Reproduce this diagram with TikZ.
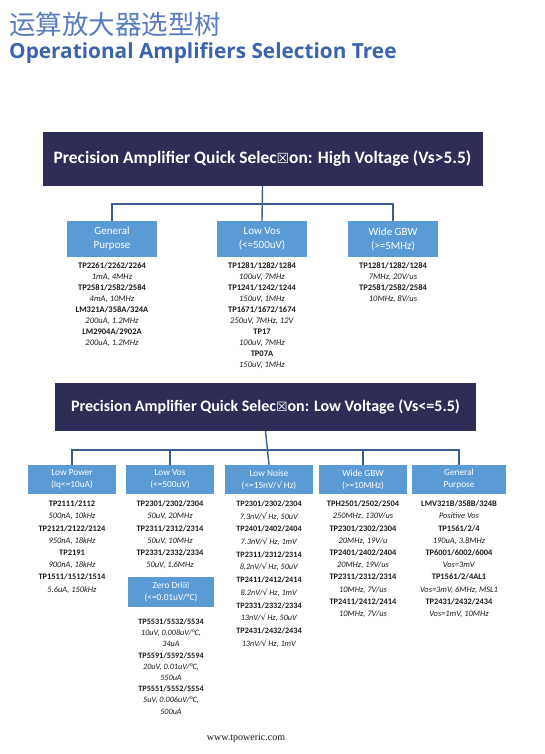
\documentclass[tikz,border=0pt]{standalone}
\usepackage{fontspec}
\setmainfont{Carlito}
\newfontfamily\cjk{Noto Sans CJK SC}
\newfontfamily\titlefont{Open Sans}
\newfontfamily\dejavu{DejaVu Sans}
\newfontfamily\footfont{Liberation Serif}
\newcommand{\xbox}{{\dejavu\fontsize{0.8em}{1em}\selectfont ☒}}
\newcommand{\sqr}{{\dejavu √}\,}
\definecolor{navy}{HTML}{2E2D57}
\definecolor{lblue}{HTML}{5B9BD5}
\definecolor{tblue}{HTML}{3C64AE}
\definecolor{cblue}{HTML}{5A7BBE}
\definecolor{conncol}{HTML}{3A5F8A}
\definecolor{txt}{HTML}{1A1A1A}
\begin{document}
\begin{tikzpicture}[x=1pt,y=-1pt,
  hdr/.style={fill=navy,text=white,inner sep=0pt,font=\bfseries},
  cat/.style={fill=lblue,text=white,inner sep=0pt,align=center,minimum width=90pt,minimum height=36pt,font=\fontsize{11}{14}\selectfont},
  catb/.style={cat,minimum width=88pt,minimum height=29pt,font=\fontsize{9.3}{12}\selectfont},
  conn/.style={draw=conncol,line width=1.4pt},
  list/.style={anchor=north,inner sep=0pt,align=center,text=txt,font=\fontsize{8.5}{11}\selectfont},
  listb/.style={list,font=\fontsize{8.4}{12.2}\selectfont}]
\useasboundingbox (0,0) rectangle (544,754);
\fill[white] (0,0) rectangle (544,754);
% titles
\node[anchor=west,inner sep=0pt,text=cblue,font=\cjk\fontsize{26.5}{28}\selectfont] (t1) at (9,24) {运算放大器选型树};
\node[anchor=west,inner sep=0pt,text=tblue,font=\titlefont\bfseries\fontsize{20.8}{24}\selectfont] (t2) at (9,53) {Operational Amplifiers Selection Tree};
% top header
\node[hdr,minimum width=440pt,minimum height=54pt,font=\fontsize{17.4}{20}\selectfont\bfseries] (h1) at (262.5,159) {Precision Amplifier Quick Selec\xbox on: High Voltage (Vs>5.5)};
\node[cat] (g1) at (112,239) {General\\Purpose};
\node[cat] (v1) at (262,239) {Low Vos\\(<=500uV)};
\node[cat] (w1) at (393,239) {Wide GBW\\(>=5MHz)};
\draw[conn] (h1.south) -- (v1.north);
\draw[conn] (g1.north) -- ++(0,-17) -| (w1.north);
\node[list] (lg1) at (112,262.5) {\textbf{TP2261/2262/2264}\\\textit{1mA, 4MHz}\\\textbf{TP2581/2582/2584}\\\textit{4mA, 10MHz}\\\textbf{LM321A/358A/324A}\\\textit{200uA, 1.2MHz}\\\textbf{LM2904A/2902A}\\\textit{200uA, 1.2MHz}};
\node[list] (lv1) at (262,262.5) {\textbf{TP1281/1282/1284}\\\textit{100uV, 7MHz}\\\textbf{TP1241/1242/1244}\\\textit{150uV, 1MHz}\\\textbf{TP1671/1672/1674}\\\textit{250uV, 7MHz, 12V}\\\textbf{TP17}\\\textit{100uV, 7MHz}\\\textbf{TP07A}\\\textit{150uV, 1MHz}};
\node[list] (lw1) at (393,262.5) {\textbf{TP1281/1282/1284}\\\textit{7MHz, 20V/us}\\\textbf{TP2581/2582/2584}\\\textit{10MHz, 8V/us}};
% bottom header
\node[hdr,minimum width=421pt,minimum height=48pt,font=\fontsize{16}{18}\selectfont\bfseries] (h2) at (265.5,407) {Precision Amplifier Quick Selec\xbox on: Low Voltage (Vs<=5.5)};
\node[catb] (b1) at (72,479.5) {Low Power\\(Iq<=10uA)};
\node[catb] (b2) at (170,479.5) {Low Vos\\(<=500uV)};
\node[catb] (b3) at (269,479.5) {Low Noise\\(<=15nV/\sqr Hz)};
\node[catb] (b4) at (363,479.5) {Wide GBW\\(>=10MHz)};
\node[catb,minimum width=94pt] (b5) at (459,479.5) {General\\Purpose};
\draw[conn] (h2.south) -- (b3.north);
\draw[conn] (b1.north) -- ++(0,-15) -| (b5.north);
\draw[conn] (b2.north) -- ++(0,-15);
\draw[conn] (b4.north) -- ++(0,-15);
\node[listb] (l1) at (72,500.5) {\textbf{TP2111/2112}\\\textit{500nA, 10kHz}\\\textbf{TP2121/2122/2124}\\\textit{950nA, 18kHz}\\\textbf{TP2191}\\\textit{900nA, 18kHz}\\\textbf{TP1511/1512/1514}\\\textit{5.6uA, 150kHz}};
\node[listb] (l2) at (170,500.5) {\textbf{TP2301/2302/2304}\\\textit{50uV, 20MHz}\\\textbf{TP2311/2312/2314}\\\textit{50uV, 10MHz}\\\textbf{TP2331/2332/2334}\\\textit{50uV, 1.6MHz}};
\node[catb,minimum width=86pt,minimum height=30pt] (zd) at (171,592) {Zero Dri\xbox\\(<=0.01uV/°C)};
\node[list,font=\fontsize{8.2}{11.2}\selectfont] (lz) at (171,618.5) {\textbf{TP5531/5532/5534}\\\textit{10uV, 0.008uV/°C,}\\\textit{34uA}\\\textbf{TP5591/5592/5594}\\\textit{20uV, 0.01uV/°C,}\\\textit{550uA}\\\textbf{TP5551/5552/5554}\\\textit{5uV, 0.006uV/°C,}\\\textit{500uA}};
\node[listb,font=\fontsize{8.2}{12.7}\selectfont] (l3) at (269,500.5) {\textbf{TP2301/2302/2304}\\\textit{7.3nV/\sqr Hz, 50uV}\\\textbf{TP2401/2402/2404}\\\textit{7.3nV/\sqr Hz, 1mV}\\\textbf{TP2311/2312/2314}\\\textit{8.2nV/\sqr Hz, 50uV}\\\textbf{TP2411/2412/2414}\\\textit{8.2nV/\sqr Hz, 1mV}\\\textbf{TP2331/2332/2334}\\\textit{13nV/\sqr Hz, 50uV}\\\textbf{TP2431/2432/2434}\\\textit{13nV/\sqr Hz, 1mV}};
\node[listb] (l4) at (363,500.5) {\textbf{TPH2501/2502/2504}\\\textit{250MHz, 130V/us}\\\textbf{TP2301/2302/2304}\\\textit{20MHz, 19V/u}\\\textbf{TP2401/2402/2404}\\\textit{20MHz, 19V/us}\\\textbf{TP2311/2312/2314}\\\textit{10MHz, 7V/us}\\\textbf{TP2411/2412/2414}\\\textit{10MHz, 7V/us}};
\node[listb] (l5) at (459,500.5) {\textbf{LMV321B/358B/324B}\\\textit{Positive Vos}\\\textbf{TP1561/2/4}\\\textit{190uA, 3.8MHz}\\\textbf{TP6001/6002/6004}\\\textit{Vos=3mV}\\\textbf{TP1561/2/4AL1}\\\textit{Vos=3mV, 6MHz, MSL1}\\\textbf{TP2431/2432/2434}\\\textit{Vos=1mV, 10MHz}};
\node[inner sep=0pt,text=txt,font=\footfont\fontsize{10}{12}\selectfont] (ft) at (246,738) {www.tpoweric.com};
\end{tikzpicture}
\end{document}
